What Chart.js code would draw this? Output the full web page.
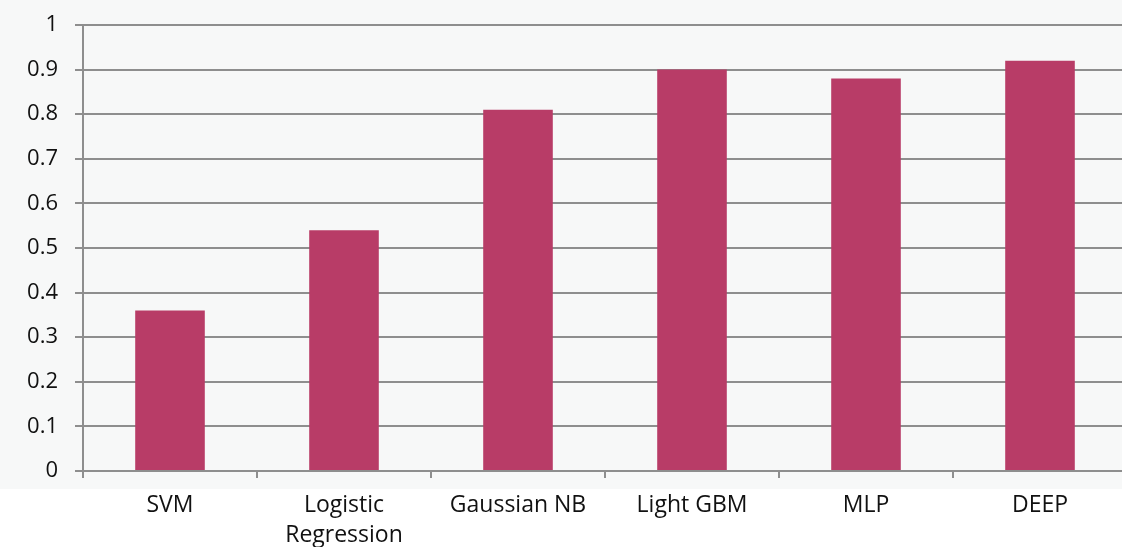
<!DOCTYPE html>
<html>
<head>
<meta charset="utf-8">
<script src="https://cdn.jsdelivr.net/npm/chart.js@4/dist/chart.umd.min.js"></script>
<style>
  html, body { margin: 0; padding: 0; background: #ffffff; overflow: hidden; }
  #wrap { position: relative; width: 1130px; height: 547px; }
</style>
</head>
<body>
<div id="wrap"><canvas id="chart"></canvas></div>
<script>
// Model names along the x axis
const models = ['SVM', ['Logistic', 'Regression'], 'Gaussian NB', 'Light GBM', 'MLP', 'DEEP'];
// Score of each model
const scores = [0.36, 0.54, 0.81, 0.90, 0.88, 0.92];
// Value axis range
const yMin = 0;
const yMax = 1;
const yStep = 0.1;

const barColor = '#b83c67';
const gridColor = '#8e8e8e';
const textColor = '#111111';
const fontFamily = '"Open Sans", "DejaVu Sans", sans-serif';

// Light panel behind the plot, white strip along the bottom
const backdrop = {
  id: 'backdrop',
  beforeDraw(chart) {
    const { ctx, width, height } = chart;
    ctx.save();
    ctx.fillStyle = '#ffffff';
    ctx.fillRect(0, 0, width, height);
    ctx.fillStyle = '#f7f8f8';
    ctx.fillRect(0, 0, width, chart.chartArea.bottom + 18);
    ctx.restore();
  }
};

new Chart(document.getElementById('chart'), {
  type: 'bar',
  data: {
    labels: models,
    datasets: [{
      data: scores,
      backgroundColor: barColor,
      borderWidth: 0,
      categoryPercentage: 0.8,
      barPercentage: 0.5
    }]
  },
  options: {
    responsive: true,
    maintainAspectRatio: false,
    animation: false,
    layout: { padding: { top: 25, right: 3, left: 0, bottom: 0 } },
    plugins: {
      legend: { display: false },
      tooltip: { enabled: false }
    },
    scales: {
      x: {
        grid: {
          offset: true,
          drawOnChartArea: false,
          drawTicks: true,
          tickLength: 7,
          color: gridColor,
          lineWidth: 2
        },
        border: { display: true, color: gridColor, width: 2 },
        ticks: {
          color: textColor,
          font: { family: fontFamily, size: 23, lineHeight: 1.28 },
          padding: 13,
          maxRotation: 0,
          autoSkip: false
        },
        afterFit(scale) { scale.height = 76; }
      },
      y: {
        min: yMin,
        max: yMax,
        grid: {
          color: gridColor,
          lineWidth: 2,
          drawTicks: true,
          tickLength: 8
        },
        border: { display: true, color: gridColor, width: 2 },
        ticks: {
          stepSize: yStep,
          color: textColor,
          font: { family: fontFamily, size: 22 },
          padding: 17,
          callback: (v) => String(Math.round(v * 10) / 10)
        },
        afterFit(scale) {
          scale.width = 83;
          scale.paddingTop = 0;
          scale.paddingBottom = 0;
        }
      }
    }
  },
  plugins: [backdrop]
});
</script>
</body>
</html>
